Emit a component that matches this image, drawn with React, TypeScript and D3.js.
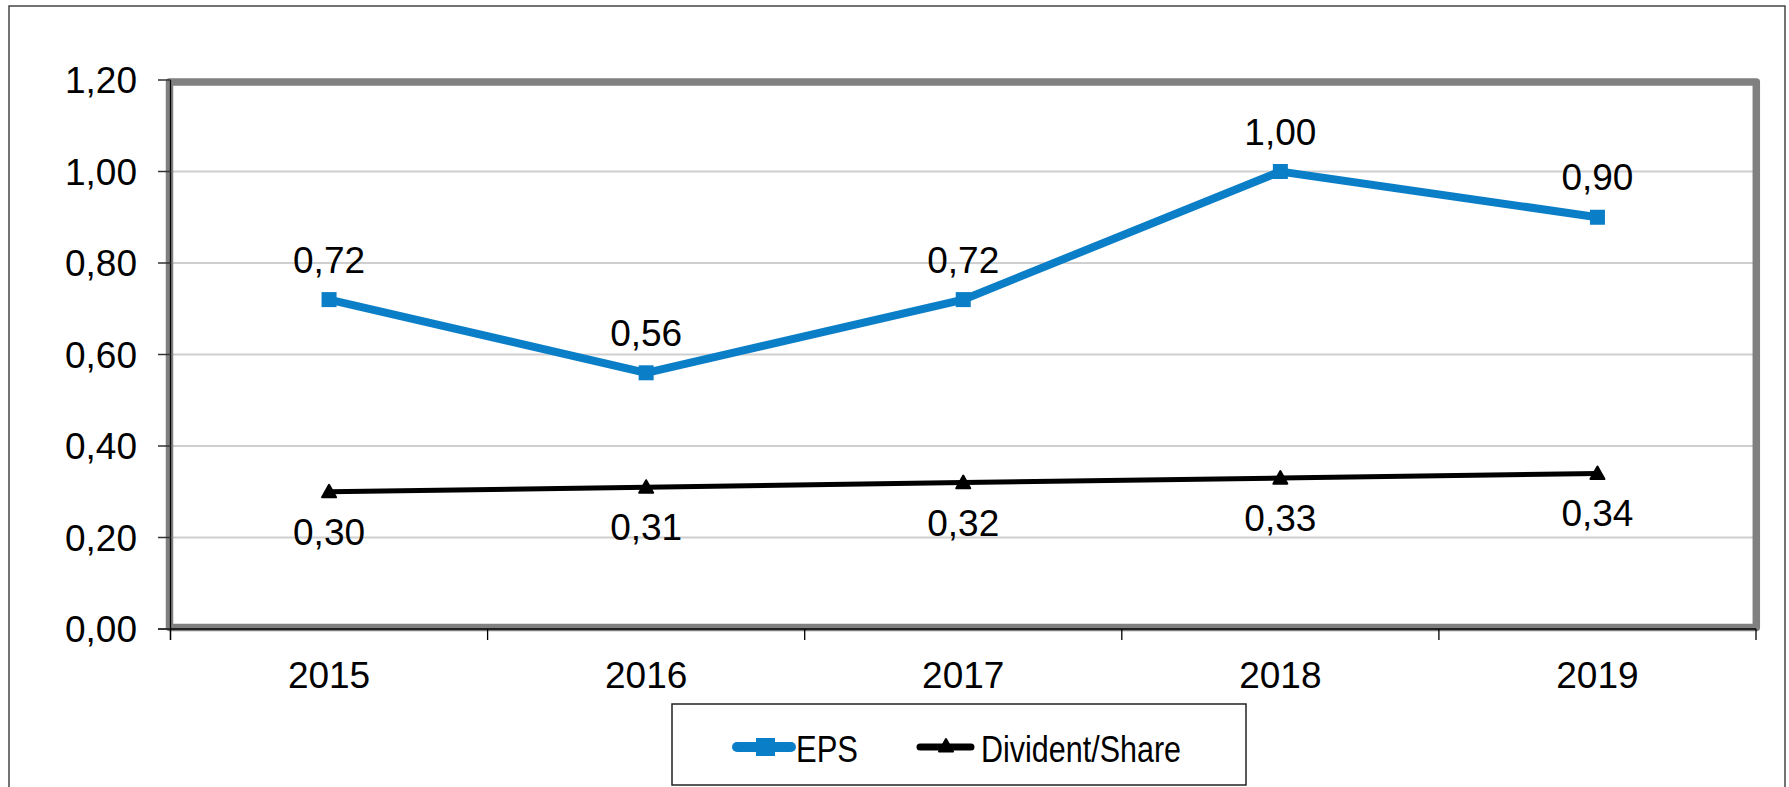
import React from "react";
import * as d3 from "d3";

const years = ["2015", "2016", "2017", "2018", "2019"];
const eps = [0.72, 0.56, 0.72, 1.0, 0.9];
const dividend = [0.3, 0.31, 0.32, 0.33, 0.34];
const yTicks = [0, 0.2, 0.4, 0.6, 0.8, 1.0, 1.2];
const seriesNames = ["EPS", "Divident/Share"];

const W = 1789;
const H = 787;
const BLUE = "#0A7EC6";
const fmt = (v: number) => v.toFixed(2).replace(".", ",");

export default function App() {
  const x = d3.scaleBand<string>().domain(years).range([170.5, 1756]).padding(0);
  const y = d3.scaleLinear().domain([0, 1.2]).range([629, 80]);
  const cx = (d: string) => (x(d) as number) + x.bandwidth() / 2;
  const line = d3
    .line<number>()
    .x((_, i) => cx(years[i]))
    .y((v) => y(v));
  const font = "'Liberation Sans', Arial, sans-serif";
  const tri = (px: number, py: number, s = 7) =>
    `M${px},${py - s} L${px + s},${py + s * 0.8} L${px - s},${py + s * 0.8} Z`;
  const boundaries = [...years.map((d) => x(d) as number), 1756];

  return (
    <svg
      width={W}
      height={H}
      style={{ position: "absolute", left: 0, top: 0, background: "#fff" }}
      fontFamily={font}
    >
      <rect x={0} y={0} width={W} height={H} fill="#fff" />
      <rect x={9} y={6} width={1776} height={820} fill="none" stroke="#444" strokeWidth={1.5} />

      {/* gridlines */}
      {yTicks.slice(1, -1).map((t) => (
        <line key={t} x1={173} x2={1753} y1={y(t)} y2={y(t)} stroke="#CFCFCF" strokeWidth={2} />
      ))}

      {/* plot frame */}
      <rect
        x={169.5}
        y={82}
        width={1586.8}
        height={545.5}
        fill="none"
        stroke="#808080"
        strokeWidth={7.5}
        strokeLinejoin="round"
      />

      {/* axes */}
      <line x1={170.5} x2={170.5} y1={y(1.2)} y2={640} stroke="#000" strokeWidth={1.3} />
      <line x1={158} x2={1756} y1={y(0)} y2={y(0)} stroke="#000" strokeWidth={1.3} />
      {yTicks.map((t) => (
        <g key={t}>
          <line x1={158} x2={170.5} y1={y(t)} y2={y(t)} stroke="#333" strokeWidth={1.5} />
          <text x={137} y={y(t) + 13} textAnchor="end" fontSize={37} fill="#000">
            {fmt(t)}
          </text>
        </g>
      ))}
      {boundaries.map((b, i) => (
        <line key={i} x1={b} x2={b} y1={y(0)} y2={640} stroke="#000" strokeWidth={1.3} />
      ))}
      {years.map((d) => (
        <text key={d} x={cx(d)} y={688} textAnchor="middle" fontSize={37} fill="#000">
          {d}
        </text>
      ))}

      {/* dividend line */}
      <path d={line(dividend) as string} fill="none" stroke="#000" strokeWidth={5} strokeLinejoin="round" />
      {dividend.map((v, i) => (
        <path key={i} d={tri(cx(years[i]), y(v))} fill="#000" stroke="#000" strokeWidth={2} strokeLinejoin="round" />
      ))}

      {/* EPS line */}
      <path d={line(eps) as string} fill="none" stroke={BLUE} strokeWidth={8} strokeLinejoin="miter" />
      {eps.map((v, i) => (
        <rect key={i} x={cx(years[i]) - 7.5} y={y(v) - 7.5} width={15} height={15} fill={BLUE} />
      ))}

      {/* data labels */}
      {eps.map((v, i) => (
        <text key={"e" + i} x={cx(years[i])} y={y(v) - 27} textAnchor="middle" fontSize={37} fill="#000">
          {fmt(v)}
        </text>
      ))}
      {dividend.map((v, i) => (
        <text key={"d" + i} x={cx(years[i])} y={y(v) + 53} textAnchor="middle" fontSize={37} fill="#000">
          {fmt(v)}
        </text>
      ))}

      {/* legend */}
      <rect x={672} y={704} width={574} height={81} fill="#fff" stroke="#222" strokeWidth={1.5} />
      <line x1={737} x2={791} y1={747} y2={747} stroke={BLUE} strokeWidth={10} strokeLinecap="round" />
      <rect x={756} y={738} width={19} height={18} fill={BLUE} />
      <text x={796} y={762} fontSize={36} textLength={62} lengthAdjust="spacingAndGlyphs" fill="#000">
        {seriesNames[0]}
      </text>
      <line x1={920} x2={971} y1={747} y2={747} stroke="#000" strokeWidth={7} strokeLinecap="round" />
      <path d={tri(946, 746, 7)} fill="#000" stroke="#000" strokeWidth={2} strokeLinejoin="round" />
      <text x={981} y={762} fontSize={36} textLength={200} lengthAdjust="spacingAndGlyphs" fill="#000">
        {seriesNames[1]}
      </text>
    </svg>
  );
}
